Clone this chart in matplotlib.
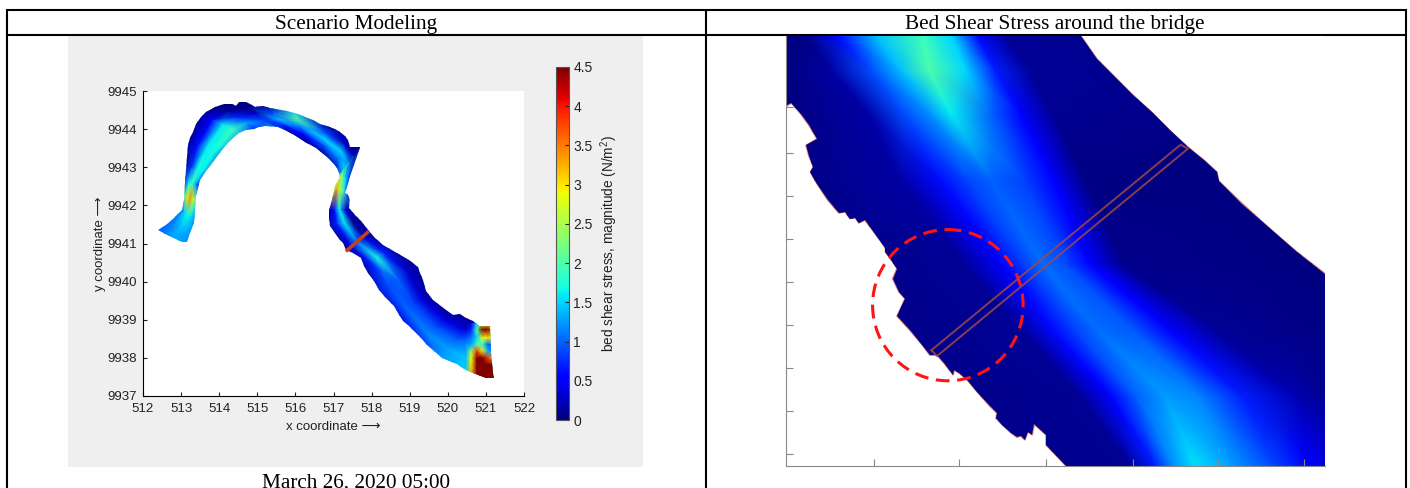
import numpy as np
import matplotlib
matplotlib.use('Agg')
import matplotlib.pyplot as plt
from matplotlib.patches import Ellipse, Polygon, Rectangle
from matplotlib.cm import ScalarMappable
from matplotlib.colors import Normalize

W, H = 1410, 488
plt.rcParams['font.family'] = ['Liberation Sans', 'DejaVu Sans']
plt.rcParams['mathtext.default'] = 'regular'

STRESS_MAX = 4.5
X_TICKS = [512, 513, 514, 515, 516, 517, 518, 519, 520, 521, 522]
Y_TICKS = [9937, 9938, 9939, 9940, 9941, 9942, 9943, 9944, 9945]
CBAR_TICKS = [0, 0.5, 1, 1.5, 2, 2.5, 3, 3.5, 4, 4.5]
CBAR_LABELS = ['0', '0.5', '1', '1.5', '2', '2.5', '3', '3.5', '4', '4.5']

# river outline (trace units, see to_x / to_y)
RIVER_X = [240, 262, 285, 305, 308, 310, 314, 316, 320, 322, 328, 335, 345, 358, 370, 395, 420, 440, 452, 460,
           480, 495, 505, 525, 545, 560, 590, 620, 640, 660, 680, 700, 720, 735, 748, 755, 762, 775, 788, 785,
           775, 762, 748, 760, 758, 775, 790, 812, 830, 850, 870, 890, 920, 945, 950, 958, 968, 985, 1010, 1040,
           1060, 1075, 1095, 1110, 1140, 1143, 1150, 1152, 1130, 1095, 1070, 1050, 1030, 1010, 990, 970, 955,
           940, 920, 905, 892, 880, 860, 840, 825, 810, 800, 790, 770, 750, 742, 735, 720, 708, 705, 705, 712,
           718, 720, 728, 735, 725, 715, 695, 670, 640, 610, 590, 565, 530, 515, 500, 480, 460, 440, 425, 405,
           390, 372, 355, 348, 345, 340, 337, 328, 318, 305, 270]
RIVER_Y = [582, 565, 545, 522, 505, 490, 440, 400, 360, 325, 305, 285, 262, 240, 225, 210, 203, 203, 208, 197,
           197, 205, 212, 208, 214, 218, 222, 233, 242, 250, 262, 268, 278, 285, 298, 310, 330, 332, 332, 360,
           395, 425, 470, 480, 515, 535, 555, 585, 605, 625, 637, 650, 672, 692, 710, 730, 765, 790, 812, 835,
           832, 845, 855, 870, 870, 950, 1010, 1027, 1025, 1010, 998, 985, 975, 965, 945, 925, 905,
           890, 870, 855, 830, 810, 785, 760, 735, 710, 690, 665, 650, 640, 620, 610, 590, 568, 545, 520, 490,
           465, 450, 435, 415, 395, 380, 358, 335, 315, 295, 282, 270, 268, 272, 278, 280, 290, 308, 325, 352,
           375, 402, 430, 455, 480, 520, 560, 590, 618, 618, 600]

# cross sections along the river: one bank, other bank, stress read across
BANK_A_X = [240, 275, 305, 312, 315, 318, 325, 360, 410, 470, 540, 610, 690, 750, 782, 755, 750, 762, 790, 812,
            870, 945, 975, 1040, 1095, 1108, 1150]
BANK_A_Y = [582, 552, 520, 480, 440, 385, 320, 235, 205, 195, 215, 228, 265, 295, 340, 425, 470, 520, 555, 585,
            635, 695, 775, 835, 855, 870, 870]
BANK_B_X = [312, 325, 337, 343, 350, 375, 415, 470, 500, 545, 590, 640, 690, 725, 735, 730, 718, 705, 706, 750,
            800, 840, 890, 950, 1010, 1090, 1150]
BANK_B_Y = [620, 600, 540, 490, 445, 410, 350, 290, 275, 268, 280, 310, 345, 390, 412, 420, 455, 520, 565, 645,
            690, 760, 820, 905, 965, 1008, 1030]
RIVER_STRESS = [
    [0.9, 1.1, 1.3, 1.3, 1.2],
    [1.0, 1.2, 1.4, 1.3, 1.2],
    [0.8, 1.5, 1.7, 1.6, 1.2],
    [1.6, 3.0, 3.4, 2.8, 1.6],
    [0.6, 1.7, 1.9, 1.3, 0.5],
    [0.0, 0.8, 1.7, 1.6, 0.4],
    [0.0, 0.6, 1.6, 1.7, 0.9],
    [0.0, 0.5, 1.6, 1.9, 1.1],
    [0.0, 0.1, 0.7, 1.3, 0.5],
    [0.0, 0.0, 0.3, 0.9, 1.2],
    [0.1, 0.9, 1.4, 0.7, 0.1],
    [1.4, 2.0, 1.1, 0.5, 0.1],
    [0.1, 0.9, 1.5, 0.9, 0.1],
    [0.0, 0.3, 1.5, 1.1, 0.2],
    [0.0, 0.2, 1.1, 1.5, 0.9],
    [0.9, 1.5, 2.0, 2.6, 2.0],
    [0.9, 2.0, 2.5, 3.3, 2.4],
    [0.0, 0.4, 1.6, 0.6, 0.0],
    [0.0, 0.1, 1.6, 0.7, 0.0],
    [0.0, 0.3, 1.1, 0.3, 0.0],
    [0.0, 0.7, 1.7, 0.7, 0.0],
    [0.0, 0.3, 1.0, 0.9, 0.3],
    [0.0, 0.35, 0.85, 1.0, 0.4],
    [0.0, 0.4, 0.9, 1.15, 0.6],
    [0.0, 0.4, 1.0, 1.3, 1.2],
    [1.0, 1.1, 1.3, 1.5, 1.5],
    [2.0, 2.0, 2.0, 2.0, 2.0],
]
ACROSS = [-0.12, 0.25, 0.52, 0.78, 1.12]

# stress hot spots at the downstream end of the reach
MOUTH_X = [1075, 1090, 1105, 1120, 1135, 1155]
MOUTH_Y = [862, 880, 905, 925, 945, 965, 985, 1005, 1030]
MOUTH_STRESS = [
    [0.1, 0.5, 1.5, 2.8, 3.0, 2.5],
    [0.3, 0.7, 2.0, 4.5, 4.5, 3.5],
    [0.9, 1.1, 1.5, 2.8, 3.0, 2.8],
    [1.2, 1.3, 2.0, 1.8, 1.0, 0.9],
    [1.3, 2.4, 3.8, 3.0, 1.4, 0.9],
    [1.4, 2.8, 4.5, 4.5, 3.8, 2.8],
    [1.4, 3.0, 4.5, 4.5, 4.5, 4.5],
    [1.5, 3.2, 4.5, 4.5, 4.5, 4.5],
    [1.5, 3.0, 4.5, 4.5, 4.5, 4.5],
]
BRIDGE_X = [750, 812]
BRIDGE_Y = [645, 585]

# close-up of the bridge, in traced units of the right hand panel
ZOOM_OUTLINE_X = [45, 855, 900, 950, 1000, 1050, 1100, 1150, 1195, 1230, 1235, 1300, 1380, 1450, 1527, 1527,
                  815, 760, 760, 728, 722, 710, 702, 690, 680, 665, 640, 622, 625, 605, 570, 545, 522, 508, 505,
                  480, 460, 440, 420, 385, 350, 362, 372, 355, 338, 350, 335, 318, 318, 290, 262, 245, 235, 220,
                  208, 190, 160, 130, 122, 112, 120, 108, 100, 130, 108, 85, 60, 45]
ZOOM_OUTLINE_Y = [15, 15, 85, 140, 195, 245, 300, 350, 390, 425, 452, 520, 600, 665, 730, 1308,
                  1308, 1245, 1215, 1183, 1215, 1205, 1230, 1218, 1222, 1210, 1185, 1165, 1150, 1128, 1085, 1052,
                  1030, 1020, 1035, 1000, 975, 975, 945, 900, 858, 830, 805, 785, 745, 715, 690, 665, 652, 610,
                  570, 578, 562, 565, 545, 548, 510, 460, 445, 425, 410, 378, 345, 325, 285, 250, 218, 228]
ZOOM_ROWS = [15, 120, 250, 450, 700, 900, 1100, 1308]
ZOOM_NODES_X = [
    [45, 100, 190, 290, 420, 500, 570, 650, 1527],
    [45, 170, 280, 360, 440, 540, 620, 720, 1527],
    [45, 270, 370, 440, 500, 610, 690, 780, 1527],
    [45, 360, 470, 540, 610, 700, 780, 870, 1527],
    [45, 530, 640, 700, 750, 810, 880, 970, 1527],
    [45, 690, 780, 840, 900, 1000, 1100, 1230, 1527],
    [45, 850, 940, 1010, 1090, 1180, 1300, 1450, 1527],
    [45, 990, 1060, 1110, 1170, 1260, 1390, 1480, 1527],
]
ZOOM_STRESS = [
    [0.0, 0.02, 0.6, 1.4, 1.9, 1.5, 0.6, 0.1, 0.0],
    [0.0, 0.15, 0.9, 1.4, 2.0, 1.5, 0.7, 0.1, 0.0],
    [0.0, 0.15, 0.9, 1.2, 1.6, 1.0, 0.55, 0.08, 0.0],
    [0.0, 0.15, 0.6, 0.85, 1.0, 0.85, 0.5, 0.03, 0.0],
    [0.0, 0.1, 0.5, 0.85, 1.05, 0.9, 0.5, 0.06, 0.0],
    [0.0, 0.1, 0.6, 0.85, 1.05, 0.95, 0.55, 0.1, 0.02],
    [0.0, 0.08, 0.55, 1.0, 1.25, 1.15, 0.7, 0.2, 0.08],
    [0.0, 0.08, 0.7, 1.2, 1.55, 1.3, 0.85, 0.5, 0.4],
]
ZOOM_BRIDGE_X = [445, 1130, 1150, 460, 445]
ZOOM_BRIDGE_Y = [960, 343, 355, 978, 960]
ZOOM_LEFT_TICKS = [230, 368, 497, 625, 755, 885, 1013, 1142, 1272]
ZOOM_BOTTOM_TICKS = [287, 522, 760, 998, 1233, 1470]


def to_x(vals):
    return 512 + (np.asarray(vals, dtype=float) - 200) / 103.3


def to_y(vals):
    return 9945 - (np.asarray(vals, dtype=float) - 163) / 114.6


def px_rect(left, top, right, bottom):
    return [left / W, 1 - bottom / H, (right - left) / W, (bottom - top) / H]


fig = plt.figure(figsize=(W / 100, H / 100), dpi=100, facecolor='white')
norm = Normalize(0, STRESS_MAX)

# table frame and grey figure background, in pixels
frame = fig.add_axes([0, 0, 1, 1], zorder=0)
frame.set_xlim(0, W)
frame.set_ylim(H, 0)
frame.axis('off')
frame.add_patch(Rectangle((68, 36), 575, 431, color='#efefef', lw=0))
for xs, ys in [((6, 1407), (9.5, 9.5)), ((6, 1407), (35, 35)), ((7, 7), (9, H)),
               ((706, 706), (9, H)), ((1406, 1406), (9, H))]:
    frame.plot(xs, ys, color='black', lw=1.5, solid_capstyle='butt')
frame.text(356, 25, 'Scenario Modeling', ha='center', va='center', family='Liberation Serif', fontsize=15.3)
frame.text(1055, 25, 'Bed Shear Stress around the bridge', ha='center', va='center',
           family='Liberation Serif', fontsize=15.3)
frame.text(356, 483, 'March 26, 2020 05:00', ha='center', va='center', family='Liberation Serif', fontsize=15.3)

# left: whole river
ax = fig.add_axes(px_rect(143, 91, 524, 396), zorder=1)
ax_x = np.array([[a + f * (b - a) for f in ACROSS] for a, b in zip(BANK_A_X, BANK_B_X)])
ax_y = np.array([[a + f * (b - a) for f in ACROSS] for a, b in zip(BANK_A_Y, BANK_B_Y)])
river = Polygon(np.column_stack([to_x(RIVER_X), to_y(RIVER_Y)]), closed=True, transform=ax.transData, fc='none', ec='none')
ax.add_patch(river)
mesh = ax.pcolormesh(to_x(ax_x), to_y(ax_y), np.array(RIVER_STRESS), shading='gouraud', cmap='jet', norm=norm)
mesh.set_clip_path(river)
mx, my = np.meshgrid(to_x(MOUTH_X), to_y(MOUTH_Y))
mouth = ax.pcolormesh(mx, my, np.array(MOUTH_STRESS), shading='gouraud', cmap='jet', norm=norm)
mouth.set_clip_path(river)
ax.plot(to_x(BRIDGE_X), to_y(BRIDGE_Y), color='#c4401a', lw=2.6, solid_capstyle='butt')
ax.set_xlim(512, 522)
ax.set_ylim(9937, 9945)
ax.set_xticks(X_TICKS)
ax.set_yticks(Y_TICKS)
ax.tick_params(direction='in', length=3, width=0.8, labelsize=9.5, colors='#222222')
ax.tick_params(axis='x', pad=5)
ax.tick_params(axis='y', pad=4.5)
ax.spines['top'].set_visible(False)
ax.spines['right'].set_visible(False)
ax.set_xlabel('x coordinate \u27f6', fontsize=9.5, labelpad=4, color='#222222')
ax.set_ylabel('y coordinate \u27f6', fontsize=9.5, labelpad=1, color='#222222')

# colorbar
cax = fig.add_axes(px_rect(556, 67, 569, 420), zorder=1)
cb = fig.colorbar(ScalarMappable(norm=norm, cmap='jet'), cax=cax)
cb.set_ticks(CBAR_TICKS, labels=CBAR_LABELS)
cb.ax.tick_params(direction='in', length=3, width=0.8, labelsize=10, colors='#222222', pad=3)
cb.set_label('bed shear stress, magnitude (N/m$^2$)', fontsize=9.8, labelpad=4, color='#222222')
cb.outline.set_edgecolor('#555555')

# right: close-up around the bridge
zoom = fig.add_axes(px_rect(786, 35.5, 1325, 466), zorder=1)
rows = np.array(ZOOM_ROWS, dtype=float)
zx = np.array(ZOOM_NODES_X, dtype=float)
zy = np.repeat(rows[:, None], zx.shape[1], axis=1)
bank = Polygon(np.column_stack([ZOOM_OUTLINE_X, ZOOM_OUTLINE_Y]), closed=True, fc='none', ec='#e0806a', lw=1.0)
zoom.add_patch(bank)
zmesh = zoom.pcolormesh(zx, zy, np.array(ZOOM_STRESS), shading='gouraud', cmap='jet', norm=norm)
zmesh.set_clip_path(bank)
zoom.plot(ZOOM_BRIDGE_X, ZOOM_BRIDGE_Y, color='#a04848', lw=1.4, alpha=0.85)
zoom.add_patch(Ellipse((490, 825), 414, 454, fc='none', ec='#ff1414', lw=2.2, ls=(0, (4.5, 2.5))))
zoom.set_xlim(45, 1527)
zoom.set_ylim(1308, 15)
zoom.set_xticks(ZOOM_BOTTOM_TICKS)
zoom.set_yticks(ZOOM_LEFT_TICKS)
zoom.tick_params(direction='in', length=5, width=0.8, color='#888888', labelbottom=False, labelleft=False)
zoom.spines['top'].set_visible(False)
zoom.spines['right'].set_visible(False)
zoom.spines['left'].set_color('#888888')
zoom.spines['bottom'].set_color('#888888')

fig.savefig('out.png', dpi=100)
